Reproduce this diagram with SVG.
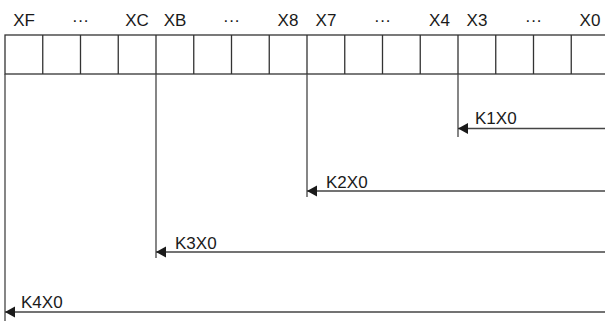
<svg xmlns="http://www.w3.org/2000/svg" width="605" height="321" viewBox="0 0 605 321">
<style>
.t{font-family:"Liberation Sans",Arial,sans-serif;font-size:17px;fill:#1a1a1a}
.h{text-anchor:middle}
.g{fill:none;stroke:#333;stroke-width:1.3}
.c{fill:none;stroke:#444;stroke-width:1.3}
</style>
<defs>
<marker id="ah" markerUnits="userSpaceOnUse" markerWidth="11" markerHeight="12" refX="10" refY="5.5" orient="auto">
<path d="M0,0 L10,5.5 L0,11 z" fill="#1a1a1a"/>
</marker>
</defs>
<rect width="605" height="321" fill="#fff"/>
<g id="register">
<rect class="g" x="5" y="35" width="604" height="39"/>
<path class="g" d="M42.75,35V74M80.5,35V74M118.25,35V74M156,35V74M193.75,35V74M231.5,35V74M269.25,35V74M307,35V74M344.75,35V74M382.5,35V74M420.25,35V74M458,35V74M495.75,35V74M533.5,35V74M571.25,35V74"/>
<text class="t h" x="24" y="25.5">XF</text>
<text class="t h" x="80.5" y="25.5">···</text>
<text class="t h" x="137" y="25.5">XC</text>
<text class="t h" x="175" y="25.5">XB</text>
<text class="t h" x="231.5" y="25.5">···</text>
<text class="t h" x="288" y="25.5">X8</text>
<text class="t h" x="326" y="25.5">X7</text>
<text class="t h" x="382.5" y="25.5">···</text>
<text class="t h" x="439.5" y="25.5">X4</text>
<text class="t h" x="477" y="25.5">X3</text>
<text class="t h" x="533.5" y="25.5">···</text>
<text class="t h" x="590" y="25.5">X0</text>
</g>
<g id="connectors">
<path class="c" d="M458,74V137"/>
<path class="c" d="M307,74V197"/>
<path class="c" d="M156,74V258"/>
<path class="c" d="M5,74V321"/>
<path class="c" d="M605,128.5H458" marker-end="url(#ah)"/>
<path class="c" d="M605,191H307" marker-end="url(#ah)"/>
<path class="c" d="M605,252H156" marker-end="url(#ah)"/>
<path class="c" d="M605,312H5" marker-end="url(#ah)"/>
</g>
<g id="k1x0"><text class="t" x="475" y="124">K1X0</text></g>
<g id="k2x0"><text class="t" x="326" y="187.5">K2X0</text></g>
<g id="k3x0"><text class="t" x="175" y="248.5">K3X0</text></g>
<g id="k4x0"><text class="t" x="21" y="308">K4X0</text></g>
</svg>
